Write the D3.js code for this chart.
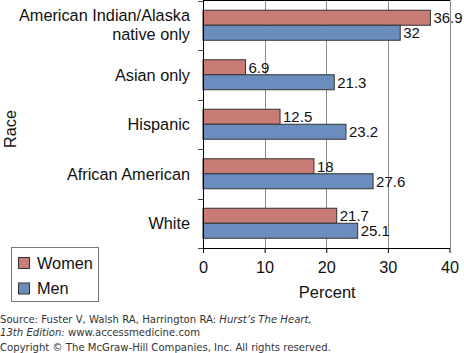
<!DOCTYPE html>
<html>
<head>
<meta charset="utf-8">
<script src="https://cdn.jsdelivr.net/npm/d3@7"></script>
<style>
  body { margin: 0; background: #fff; }
  svg text { font-family: "Liberation Sans", Arial, sans-serif; }
  .src { font-family: "DejaVu Sans", Verdana, sans-serif; font-size: 10.1px; fill: #333; }
</style>
</head>
<body>
<svg id="chart" width="464" height="353"></svg>
<script>
// data
var races = ["American Indian/Alaska native only", "Asian only", "Hispanic", "African American", "White"];
var women = [36.9, 6.9, 12.5, 18, 21.7];
var men = [32, 21.3, 23.2, 27.6, 25.1];
var xTicks = [0, 10, 20, 30, 40];
var seriesNames = ["Women", "Men"];
var seriesColors = ["#c97b76", "#6a8dbd"];

var svg = d3.select("#chart");
var plot = { left: 203, right: 449.5, top: 0.5, bottom: 248 };

var x = d3.scaleLinear().domain([0, 40]).range([plot.left, plot.right]);
var y = d3.scaleBand().domain(races).range([plot.top, plot.bottom]).padding(0);
var ySub = d3.scaleBand().domain(seriesNames).range([0, y.bandwidth()]).paddingInner(0).paddingOuter(0.65);

// gridlines
svg.append("g").selectAll("line")
    .data(xTicks.slice(1))
    .join("line")
    .attr("x1", d => Math.round(x(d)) + 0.5).attr("x2", d => Math.round(x(d)) + 0.5)
    .attr("y1", plot.top).attr("y2", plot.bottom)
    .attr("stroke", "#8a8a8a").attr("stroke-width", 1);

// top border
svg.append("line")
    .attr("x1", plot.left).attr("x2", plot.right + 0.5)
    .attr("y1", plot.top).attr("y2", plot.top)
    .attr("stroke", "#000");

// bars
var rows = races.map((r, i) => ({ race: r, vals: [{ s: "Women", v: women[i] }, { s: "Men", v: men[i] }] }));
var groups = svg.append("g").selectAll("g")
    .data(rows)
    .join("g")
    .attr("transform", d => `translate(0,${y(d.race)})`);

groups.selectAll("rect")
    .data(d => d.vals)
    .join("rect")
    .attr("x", x(0))
    .attr("y", d => ySub(d.s))
    .attr("width", d => x(d.v) - x(0))
    .attr("height", ySub.bandwidth())
    .attr("fill", (d, i) => seriesColors[i])
    .attr("stroke", "#333")
    .attr("stroke-width", 1);

groups.selectAll("text.val")
    .data(d => d.vals)
    .join("text")
    .attr("class", "val")
    .attr("x", d => x(d.v) + 3)
    .attr("y", d => ySub(d.s) + ySub.bandwidth() / 2)
    .attr("dy", "0.36em")
    .attr("font-size", 15)
    .attr("fill", "#111")
    .text(d => d.v);

// y axis (ticks between categories)
var yBounds = races.map(r => y(r)).concat([plot.bottom]);
svg.append("line")
    .attr("x1", plot.left + 0.5).attr("x2", plot.left + 0.5)
    .attr("y1", plot.top).attr("y2", plot.bottom)
    .attr("stroke", "#000");
svg.append("g").selectAll("line")
    .data(yBounds)
    .join("line")
    .attr("x1", plot.left - 5).attr("x2", plot.left)
    .attr("y1", d => Math.round(d) + 0.5).attr("y2", d => Math.round(d) + 0.5)
    .attr("stroke", "#444");

// category labels
var catLabels = svg.append("g").selectAll("text")
    .data(races)
    .join("text")
    .attr("x", 190)
    .attr("y", d => y(d) + y.bandwidth() / 2)
    .attr("text-anchor", "end")
    .attr("font-size", 16.3)
    .attr("fill", "#111");
catLabels.each(function (d) {
    var t = d3.select(this);
    if (d.indexOf("/") > 0) {
        t.append("tspan").attr("x", 190).attr("dy", "-0.27em").text("American Indian/Alaska");
        t.append("tspan").attr("x", 190).attr("dy", "1.2em").text("native only");
    } else {
        t.attr("dy", "0.36em").text(d);
    }
});

// x axis
var xAxis = svg.append("g")
    .attr("transform", `translate(0,${plot.bottom})`)
    .call(d3.axisBottom(x).tickValues(xTicks).tickSize(5).tickSizeOuter(0).tickPadding(8));
xAxis.select(".domain").attr("stroke", "#000");
xAxis.selectAll(".tick line").attr("stroke", "#000");
xAxis.selectAll(".tick text")
    .attr("font-size", 16.3)
    .attr("font-family", "Liberation Sans, Arial, sans-serif")
    .attr("fill", "#111");

svg.append("text")
    .attr("x", (plot.left + plot.right) / 2 + 1)
    .attr("y", 298)
    .attr("text-anchor", "middle")
    .attr("font-size", 16.5)
    .attr("fill", "#111")
    .text("Percent");

svg.append("text")
    .attr("transform", "translate(16,129) rotate(-90)")
    .attr("text-anchor", "middle")
    .attr("font-size", 16.3)
    .attr("fill", "#111")
    .text("Race");

// legend
var legend = svg.append("g");
legend.append("rect")
    .attr("x", 11.5).attr("y", 247.5).attr("width", 87).attr("height", 54)
    .attr("fill", "#fff").attr("stroke", "#777");
var li = legend.selectAll("g")
    .data(seriesNames)
    .join("g")
    .attr("transform", (d, i) => `translate(18,${257 + i * 25.5})`);
li.append("rect")
    .attr("x", 0.5).attr("y", 0.5).attr("width", 11).attr("height", 11)
    .attr("fill", (d, i) => seriesColors[i]).attr("stroke", "#333");
li.append("text")
    .attr("x", 19).attr("y", 11.5)
    .attr("font-size", 16.3)
    .attr("fill", "#111")
    .text(d => d);

// source notes
var src = svg.append("g");
var l1 = src.append("text").attr("class", "src").attr("x", 0).attr("y", 323);
l1.append("tspan").text("Source: Fuster V, Walsh RA, Harrington RA: ");
l1.append("tspan").attr("font-style", "italic").text("Hurst\u2019s The Heart,");
var l2 = src.append("text").attr("class", "src").attr("x", 0).attr("y", 336);
l2.append("tspan").attr("font-style", "italic").text("13th Edition:");
l2.append("tspan").text(" www.accessmedicine.com");
src.append("text").attr("class", "src").attr("x", 0).attr("y", 351)
    .text("Copyright \u00a9 The McGraw-Hill Companies, Inc. All rights reserved.");
</script>
</body>
</html>
